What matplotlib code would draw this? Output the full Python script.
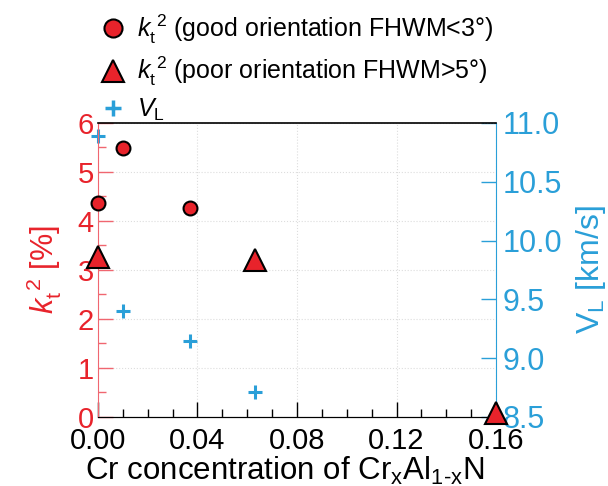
import matplotlib.pyplot as plt
from matplotlib.lines import Line2D
from matplotlib.ticker import MultipleLocator, FormatStrFormatter

plt.rcParams['font.family'] = ['Liberation Sans', 'DejaVu Sans']
plt.rcParams['mathtext.fontset'] = 'custom'
plt.rcParams['mathtext.rm'] = 'Liberation Sans'
plt.rcParams['mathtext.it'] = 'Liberation Sans:italic'

red = '#e8232b'
blue = '#2a9fd8'

# good orientation k_t^2 (%)
x_good = [0.0, 0.01, 0.037]
k_good = [4.37, 5.48, 4.27]
# poor orientation k_t^2 (%)
x_poor = [0.0, 0.063, 0.16]
k_poor = [3.27, 3.2, 0.08]
# longitudinal velocity (km/s)
x_vl = [0.0, 0.01, 0.037, 0.063]
vl = [10.89, 9.40, 9.15, 8.71]

fig = plt.figure(figsize=(6.08, 4.86), dpi=100)
ax = fig.add_axes([0.161, 0.142, 0.655, 0.605])
ax2 = ax.twinx()

ax.set_xlim(0, 0.16)
ax.set_ylim(0, 6)
ax2.set_ylim(8.5, 11)

ax.grid(True, color='#dddddd', linestyle=':', linewidth=0.8)
# top frame line drawn over the grid
ax.axhline(6, color='black', lw=1.2, zorder=3, clip_on=False)

ax2.plot(x_vl, vl, '+', color=blue, ms=10, mew=2.2, clip_on=False, zorder=5)
ax.plot(x_good, k_good, 'o', color=red, mec='black', mew=1.5, ms=10,
        clip_on=False, zorder=5)
ax.plot(x_poor, k_poor, '^', color=red, mec='black', mew=1.5, ms=16,
        clip_on=False, zorder=6)
ax.set_zorder(ax2.get_zorder() + 1)
ax.patch.set_visible(False)

ax.xaxis.set_major_locator(MultipleLocator(0.04))
ax.xaxis.set_minor_locator(MultipleLocator(0.01))
ax.xaxis.set_major_formatter(FormatStrFormatter('%.2f'))
ax.yaxis.set_major_locator(MultipleLocator(1))
ax.yaxis.set_minor_locator(MultipleLocator(0.5))
ax2.yaxis.set_major_locator(MultipleLocator(0.5))
ax2.yaxis.set_major_formatter(FormatStrFormatter('%.1f'))

ax.tick_params(axis='both', which='major', direction='in', length=11,
               width=1, labelsize=21, top=False)
ax.tick_params(axis='both', which='minor', direction='in', length=6, width=1)
ax.tick_params(axis='y', which='both', colors='#f06670', labelcolor=red,
               pad=3)
ax.tick_params(axis='x', pad=7)
ax2.tick_params(axis='y', which='major', direction='in', length=11, width=1,
                labelsize=22, colors=blue, labelcolor=blue, pad=5)

ax.spines['left'].set_color('#f06670')
ax2.spines['left'].set_visible(False)
ax.spines['right'].set_visible(False)
ax2.spines['right'].set_color(blue)
ax.spines['top'].set_visible(False)
ax2.spines['top'].set_visible(False)

ax.set_xlabel(r'Cr concentration of Cr$_\mathrm{x}$Al$_\mathrm{1‐x}$N',
              fontsize=22.5, labelpad=0)
ax.xaxis.set_label_coords(0.47, -0.13)
ax.set_ylabel(r'$k_\mathrm{t}^{\ 2}$ [%]', fontsize=22, color=red, labelpad=10)
ax2.set_ylabel(r'V$_\mathrm{L}$ [km/s]', fontsize=23, color=blue, labelpad=8)

h1 = Line2D([], [], ls='none', marker='o', color=red, mec='black', mew=1.5,
            ms=13)
h2 = Line2D([], [], ls='none', marker='^', color=red, mec='black', mew=1.5,
            ms=16)
h3 = Line2D([], [], ls='none', marker='+', color=blue, mew=2.5, ms=12)
labels = [r'$k_\mathrm{t}^{\ 2}$ (good orientation FHWM<3°)',
          r'$k_\mathrm{t}^{\ 2}$ (poor orientation FHWM>5°)',
          r'$V_\mathrm{L}$']
fig.legend(handles=[h1, h2, h3], labels=labels, loc='upper left',
           bbox_to_anchor=(0.13, 1.02), frameon=False, fontsize=18,
           handlelength=0.9, handletextpad=0.5, labelspacing=0.35)

fig.savefig('out.png', dpi=100)
